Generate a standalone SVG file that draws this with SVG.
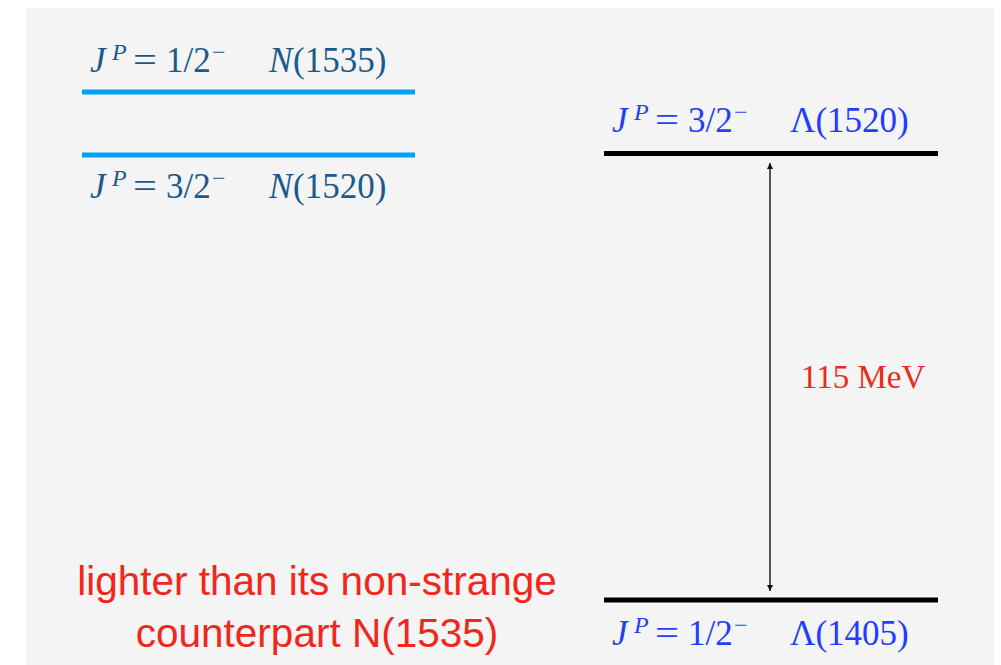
<svg xmlns="http://www.w3.org/2000/svg" width="1001" height="665" viewBox="0 0 1001 665">
  <style>
    .lab{font-family:"Liberation Serif","Times New Roman",serif;font-size:35px}
    .it{font-style:italic}
    .sup{font-size:24px}
    .nuc{fill:#1c5a8c}
    .lam{fill:#1f3dff}
    .blue{stroke:#00a0f4;stroke-width:5}
    .black{stroke:#000;stroke-width:5}
    .note{font-family:"Liberation Sans",Arial,sans-serif;font-size:40.5px;fill:#f2261a;text-anchor:middle}
  </style>
  <defs>
    <marker id="tip" viewBox="0 0 10 10" refX="10" refY="5" markerWidth="6" markerHeight="6" orient="auto-start-reverse" markerUnits="userSpaceOnUse">
      <path d="M0,0 L10,5 L0,10 z" fill="#111"/>
    </marker>
  </defs>

  <rect width="1001" height="665" fill="#ffffff"/>
  <rect x="26" y="8" width="968" height="657" fill="#f4f4f4"/>

  <!-- N(1535) level -->
  <g id="n1535">
    <line class="blue" x1="82" y1="92" x2="415" y2="92"/>
    <text class="lab nuc"><tspan x="90" y="72" class="it">J</tspan><tspan x="112" y="60" class="it sup">P</tspan><tspan x="133" y="72" textLength="24" lengthAdjust="spacingAndGlyphs">=</tspan><tspan x="166" y="72">1/2</tspan><tspan x="212" y="60" class="sup">−</tspan><tspan x="269" y="72" class="it">N</tspan><tspan x="293" y="72">(1535)</tspan></text>
  </g>

  <!-- N(1520) level -->
  <g id="n1520">
    <line class="blue" x1="82" y1="155" x2="415" y2="155"/>
    <text class="lab nuc"><tspan x="90" y="198" class="it">J</tspan><tspan x="112" y="186" class="it sup">P</tspan><tspan x="133" y="198" textLength="24" lengthAdjust="spacingAndGlyphs">=</tspan><tspan x="166" y="198">3/2</tspan><tspan x="212" y="186" class="sup">−</tspan><tspan x="269" y="198" class="it">N</tspan><tspan x="293" y="198">(1520)</tspan></text>
  </g>

  <!-- Lambda(1520) level -->
  <g id="l1520">
    <line class="black" x1="604" y1="153.5" x2="938" y2="153.5"/>
    <text class="lab lam"><tspan x="612" y="132" class="it">J</tspan><tspan x="634" y="120" class="it sup">P</tspan><tspan x="655" y="132" textLength="24" lengthAdjust="spacingAndGlyphs">=</tspan><tspan x="688" y="132">3/2</tspan><tspan x="734" y="120" class="sup">−</tspan><tspan x="790" y="132">Λ(1520)</tspan></text>
  </g>

  <!-- Lambda(1405) level -->
  <g id="l1405">
    <line class="black" x1="604" y1="600" x2="938" y2="600"/>
    <text class="lab lam"><tspan x="612" y="645" class="it">J</tspan><tspan x="634" y="633" class="it sup">P</tspan><tspan x="655" y="645" textLength="24" lengthAdjust="spacingAndGlyphs">=</tspan><tspan x="688" y="645">1/2</tspan><tspan x="734" y="633" class="sup">−</tspan><tspan x="790" y="645">Λ(1405)</tspan></text>
  </g>

  <!-- mass splitting -->
  <g id="connectors">
    <line x1="770" y1="163" x2="770" y2="591" stroke="#222" stroke-width="1.5" marker-start="url(#tip)" marker-end="url(#tip)"/>
  </g>
  <g id="gap">
    <text x="801" y="388" fill="#ea2a1c" style="font-family:'Liberation Serif','Times New Roman',serif;font-size:33px">115 MeV</text>
  </g>

  <g id="note">
    <text class="note" x="317" y="595">lighter than its non-strange</text>
    <text class="note" x="317" y="647">counterpart N(1535)</text>
  </g>
</svg>
